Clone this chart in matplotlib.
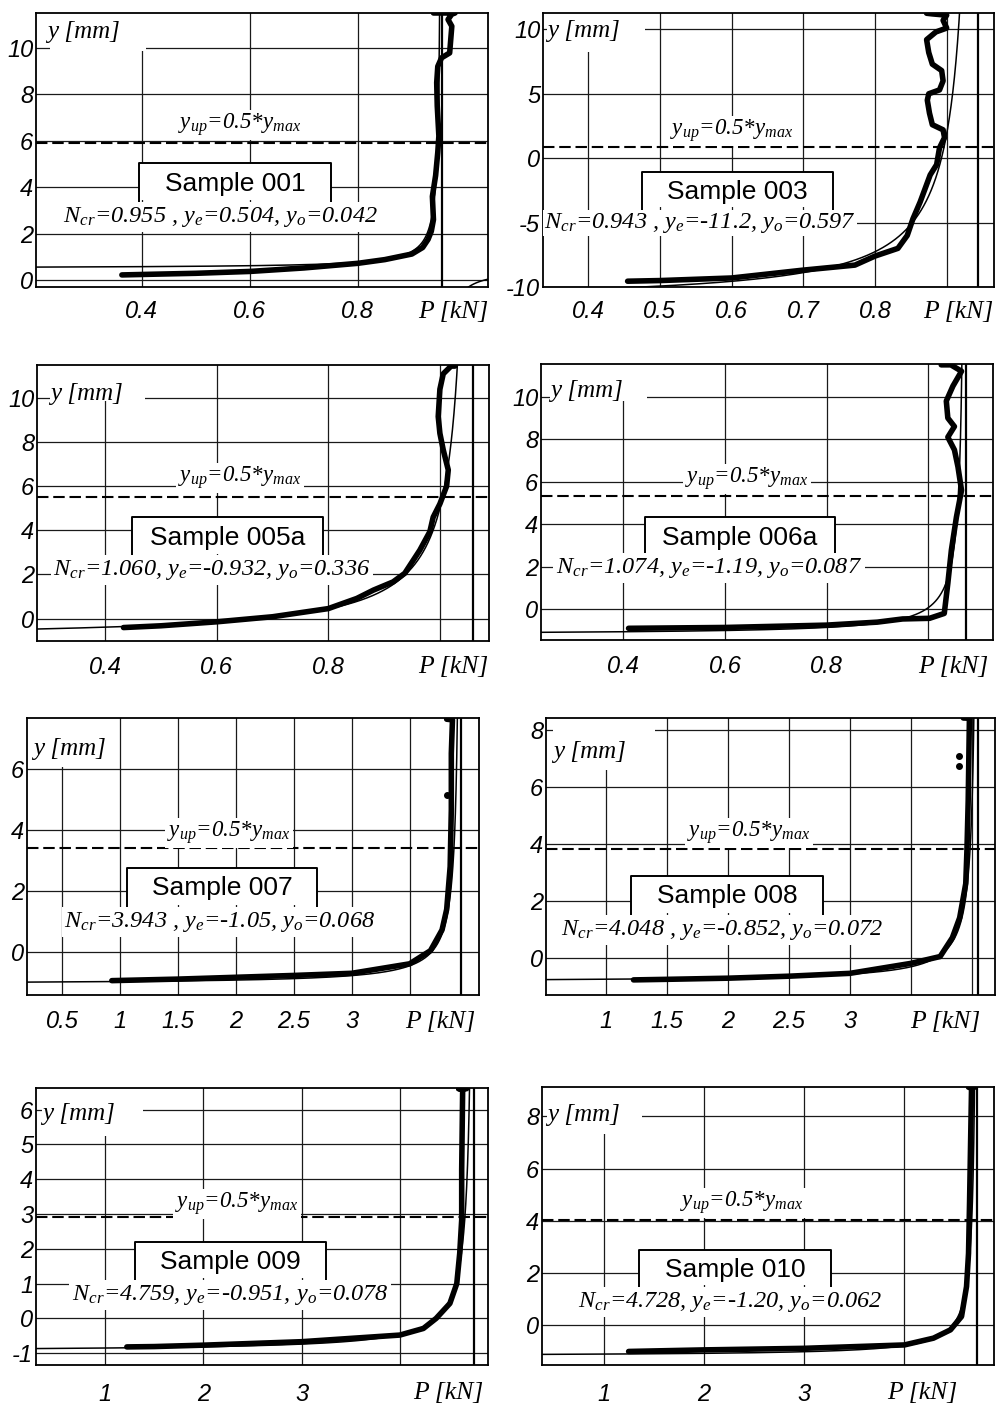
import numpy as np
import matplotlib
matplotlib.use('Agg')
import matplotlib.pyplot as plt
from matplotlib.patches import Rectangle
from matplotlib.lines import Line2D

plt.rcParams['mathtext.fontset'] = 'custom'
plt.rcParams['mathtext.rm'] = 'Liberation Serif:italic'
plt.rcParams['mathtext.it'] = 'Liberation Serif:italic'
plt.rcParams['mathtext.bf'] = 'Liberation Serif:bold:italic'

# ---------------- data ----------------
samples = ['001', '003', '005a', '006a', '007', '008', '009', '010']
Ncr = [0.955, 0.943, 1.060, 1.074, 3.943, 4.048, 4.759, 4.728]
ye = [0.504, -11.2, -0.932, -1.19, -1.05, -0.852, -0.951, -1.20]
yo = [0.042, 0.597, 0.336, 0.087, 0.068, 0.072, 0.078, 0.062]
param_labels = [
    'N$_{cr}$=0.955 , y$_e$=0.504, y$_o$=0.042',
    'N$_{cr}$=0.943 , y$_e$=-11.2, y$_o$=0.597',
    'N$_{cr}$=1.060, y$_e$=-0.932, y$_o$=0.336',
    'N$_{cr}$=1.074, y$_e$=-1.19, y$_o$=0.087',
    'N$_{cr}$=3.943 , y$_e$=-1.05, y$_o$=0.068',
    'N$_{cr}$=4.048 , y$_e$=-0.852, y$_o$=0.072',
    'N$_{cr}$=4.759, y$_e$=-0.951, y$_o$=0.078',
    'N$_{cr}$=4.728, y$_e$=-1.20, y$_o$=0.062',
]
y_up = [5.9, 0.9, 5.53, 5.33, 3.40, 3.81, 2.9, 4.03]

P_001 = [0.363, 0.42, 0.5, 0.6, 0.7, 0.8, 0.85, 0.9, 0.92, 0.93, 0.936, 0.94, 0.938, 0.944, 0.948,
         0.950, 0.947, 0.946, 0.948, 0.955, 0.970, 0.974, 0.967, 0.974, 0.980, 0.940]
y_001 = [0.22, 0.25, 0.29, 0.37, 0.52, 0.72, 0.88, 1.12, 1.40, 1.75, 2.10, 2.60, 3.60, 4.50, 5.50,
         6.20, 7.50, 8.50, 9.20, 9.57, 9.78, 10.93, 11.22, 11.45, 11.5, 11.5]

P_003 = [0.455, 0.5, 0.6, 0.698, 0.772, 0.8, 0.832, 0.845, 0.853, 0.863, 0.877, 0.886, 0.890, 0.897,
         0.895, 0.880, 0.876, 0.873, 0.875, 0.890, 0.895, 0.893, 0.880, 0.875, 0.872, 0.885, 0.900,
         0.895, 0.900, 0.880, 0.872]
y_003 = [-9.55, -9.5, -9.3, -8.7, -8.3, -7.6, -7.0, -6.0, -4.7, -3.4, -1.3, -0.5, 0.8, 1.6,
         2.2, 2.6, 3.5, 4.5, 5.0, 5.3, 6.0, 6.8, 7.3, 8.2, 9.2, 9.8, 10.1,
         10.7, 11.1, 11.2, 11.25]

P_005a = [0.433, 0.5, 0.6, 0.7, 0.8, 0.851, 0.881, 0.916, 0.937, 0.964, 0.982, 0.988, 1.0, 1.012,
          1.015, 1.006, 1.0, 0.997, 1.0, 1.006, 1.02, 1.027]
y_005a = [-0.41, -0.33, -0.15, 0.08, 0.45, 0.91, 1.29, 1.66, 2.05, 3.1, 3.94, 4.6, 5.2, 6.0,
          6.74, 7.65, 8.4, 9.16, 10.4, 11.1, 11.45, 11.45]

P_006a = [0.41, 0.6, 0.8, 0.9, 0.95, 1.003, 1.032, 1.039, 1.046, 1.056, 1.066, 1.059, 1.052, 1.039,
          1.052, 1.039, 1.036, 1.049, 1.066, 1.045, 1.026]
y_006a = [-0.89, -0.85, -0.74, -0.6, -0.45, -0.42, -0.19, 1.22, 2.79, 4.35, 5.6, 6.7, 7.5, 8.1,
          8.6, 9.0, 9.8, 10.5, 11.2, 11.5, 11.5]

P_007 = [0.93, 1.5, 2.0, 2.5, 3.0, 3.5, 3.68, 3.78, 3.82, 3.85, 3.86, 3.86, 3.87, 3.82]
y_007 = [-0.93, -0.88, -0.82, -0.76, -0.69, -0.38, 0.05, 0.73, 1.4, 2.8, 4.66, 6.5, 7.6, 7.62]

P_008 = [1.224, 1.5, 2.0, 2.5, 3.0, 3.5, 3.74, 3.84, 3.90, 3.95, 3.96, 3.97, 3.98, 3.93]
y_008 = [-0.78, -0.76, -0.72, -0.65, -0.55, -0.2, 0.04, 0.7, 1.4, 2.6, 3.8, 5.5, 8.4, 8.41]

P_009 = [1.22, 1.5, 2.0, 3.0, 4.0, 4.24, 4.37, 4.51, 4.58, 4.61, 4.63, 4.63, 4.64, 4.60, 4.68]
y_009 = [-0.82, -0.81, -0.77, -0.67, -0.48, -0.29, 0.0, 0.43, 1.0, 1.87, 2.83, 4.27, 6.6, 6.6, 6.6]

P_010 = [1.25, 1.5, 2.0, 3.0, 4.0, 4.29, 4.46, 4.57, 4.62, 4.64, 4.65, 4.67, 4.64, 4.70]
y_010 = [-1.02, -1.0, -0.96, -0.9, -0.77, -0.51, -0.19, 0.32, 1.47, 2.75, 4.67, 9.1, 9.12, 9.12]

# isolated scattered measurement points
dots_P_007 = [3.82]
dots_y_007 = [5.15]
dots_P_008 = [3.896, 3.896]
dots_y_008 = [7.06, 6.73]

P_data = [P_001, P_003, P_005a, P_006a, P_007, P_008, P_009, P_010]
y_data = [y_001, y_003, y_005a, y_006a, y_007, y_008, y_009, y_010]
dots_P = [[], [], [], [], dots_P_007, dots_P_008, [], []]
dots_y = [[], [], [], [], dots_y_007, dots_y_008, [], []]

xlims = [(0.204, 1.041), (0.337, 0.966), (0.278, 1.088), (0.2375, 1.128),
         (0.198, 4.099), (0.506, 4.19), (0.295, 4.898), (0.386, 4.894)]
ylims = [(-0.3, 11.5), (-10, 11.27), (-1.02, 11.5), (-1.44, 11.54),
         (-1.4, 7.66), (-1.31, 8.41), (-1.34, 6.62), (-1.54, 9.13)]

x_ticklabels = [['0.4', '0.6', '0.8'], ['0.4', '0.5', '0.6', '0.7', '0.8'],
                ['0.4', '0.6', '0.8'], ['0.4', '0.6', '0.8'],
                ['0.5', '1', '1.5', '2', '2.5', '3'], ['1', '1.5', '2', '2.5', '3'],
                ['1', '2', '3'], ['1', '2', '3']]
x_grid = [[0.4, 0.6, 0.8], [0.4, 0.5, 0.6, 0.7, 0.8, 0.9], [0.4, 0.6, 0.8, 1.0], [0.4, 0.6, 0.8, 1.0],
          [0.5, 1, 1.5, 2, 2.5, 3, 3.5], [1, 1.5, 2, 2.5, 3, 3.5, 4], [1, 2, 3, 4], [1, 2, 3, 4]]
y_ticklabels = [['0', '2', '4', '6', '8', '10'], ['-10', '-5', '0', '5', '10'],
                ['0', '2', '4', '6', '8', '10'], ['0', '2', '4', '6', '8', '10'],
                ['0', '2', '4', '6'], ['0', '2', '4', '6', '8'],
                ['-1', '0', '1', '2', '3', '4', '5', '6'], ['0', '2', '4', '6', '8']]

# ---------------- layout (pixels) ----------------
W, H = 998, 1406
ax_px = [(36, 488, 13, 287), (543, 994, 13, 287), (37, 489, 365, 641), (541, 993, 364, 640),
         (27, 479, 718, 995), (546, 995, 718, 995), (36, 488, 1088, 1365), (542, 994, 1087, 1365)]
yup_px = [(240, 125), (732, 131), (240, 478), (747, 479), (229, 833), (749, 833), (237, 1204), (742, 1203)]
box_px = [(139, 331, 163, 200), (642, 833, 172, 207), (132, 323, 517, 554), (645, 835, 517, 554),
          (127, 317, 868, 905), (631, 823, 876, 913), (135, 326, 1242, 1278), (639, 831, 1250, 1285)]
par_px = [(220, 217), (700, 223), (212, 570), (709, 568), (220, 922), (722, 930), (230, 1295), (730, 1302)]
par_pad = [2, 1, 2, 2, 2, 2, 2, 2]
ymm_box = [(50, 146, 13, 51), (547, 645, 13, 52), (50, 145, 365, 401), (550, 647, 364, 401),
           (33, 115, 718, 767), (553, 655, 718, 770), (42, 143, 1088, 1136), (547, 642, 1087, 1134)]
ymm_txt = [(47, 32), (547, 31), (50, 394), (550, 391), (33, 749), (553, 752), (42, 1114), (547, 1115)]
pkn_px = [(488, 312), (993, 312), (488, 667), (988, 667), (475, 1022), (980, 1022), (483, 1393), (957, 1393)]
xpad = [9, 9, 10.5, 10.5, 10.5, 10.5, 13, 13]


def fx(x):
    return x / W


def fy(y):
    return 1 - y / H


fig = plt.figure(figsize=(W / 100, H / 100), dpi=100)
fig.patch.set_facecolor('white')

for i in range(8):
    l, r, t, b = ax_px[i]
    ax = fig.add_axes([fx(l), fy(b), (r - l) / W, (b - t) / H])
    ax.set_xlim(*xlims[i])
    ax.set_ylim(*ylims[i])
    for s in ax.spines.values():
        s.set_linewidth(1.3)
        s.set_zorder(2.5)

    # grid
    for xv in x_grid[i]:
        ax.axvline(xv, color='#1a1a1a', lw=0.9, zorder=1.5)
    yt = [float(v) for v in y_ticklabels[i]]
    for yv in yt:
        ax.axhline(yv, color='#1a1a1a', lw=0.9, zorder=1.5)

    # ticks
    ax.set_xticks([float(v) for v in x_ticklabels[i]])
    ax.set_xticklabels(x_ticklabels[i])
    ax.set_yticks(yt)
    ax.set_yticklabels(y_ticklabels[i])
    ax.tick_params(axis='both', length=0, labelsize=17)
    ax.tick_params(axis='x', pad=xpad[i])
    ax.tick_params(axis='y', pad=2)
    for lab in ax.get_xticklabels() + ax.get_yticklabels():
        lab.set_fontstyle('italic')
        lab.set_fontfamily('Liberation Sans')

    # white area behind "y [mm]"
    x0, x1, y0, y1 = ymm_box[i]
    ax.add_patch(Rectangle((fx(x0), fy(y1)), (x1 - x0) / W, (y1 - y0) / H,
                           transform=fig.transFigure, facecolor='white', edgecolor='none', zorder=1.8))

    # fitted curve y = ye + yo / (1 - P/Ncr)
    Pf = np.linspace(xlims[i][0], xlims[i][1], 4000)
    yf = ye[i] + yo[i] / (1 - Pf / Ncr[i])
    yf[np.abs(Pf - Ncr[i]) < 0.002 * Ncr[i]] = np.nan
    yf[(Pf > Ncr[i]) & (yf > ylims[i][1])] = np.nan
    ax.plot(Pf, yf, color='black', lw=1.1, zorder=2.1)

    # measured data
    ax.plot(P_data[i], y_data[i], color='black', lw=4.0, solid_capstyle='round',
            solid_joinstyle='round', zorder=2.2)
    if dots_P[i]:
        ax.plot(dots_P[i], dots_y[i], 'o', color='black', ms=4, zorder=2.2)

    # asymptote at Ncr
    ax.axvline(Ncr[i], color='black', lw=1.6, zorder=2.3)

    # y_up dashed line
    ax.axhline(y_up[i], color='black', lw=1.5, ls=(0, (5.5, 2.3)), zorder=2.0)

    # y_up label
    ax.text(fx(yup_px[i][0]), fy(yup_px[i][1]), 'y$_{up}$=0.5*y$_{max}$', transform=fig.transFigure,
            ha='center', va='center', fontsize=16.5, fontfamily='Liberation Serif', fontstyle='italic',
            zorder=3, bbox=dict(facecolor='white', edgecolor='none', pad=1.5))

    # sample box (top and sides)
    bx0, bx1, bt, bb = box_px[i]
    ax.add_patch(Rectangle((fx(bx0), fy(bb)), (bx1 - bx0) / W, (bb - bt) / H,
                           transform=fig.transFigure, facecolor='white', edgecolor='none', zorder=2.6))
    ax.add_line(Line2D([fx(bx0), fx(bx0), fx(bx1), fx(bx1)], [fy(bb + 4), fy(bt), fy(bt), fy(bb + 4)],
                       transform=fig.transFigure, color='black', lw=1.4, zorder=2.7, clip_on=False))
    ax.text(fx((bx0 + bx1) / 2), fy((bt + bb) / 2 + 2), 'Sample ' + samples[i], transform=fig.transFigure,
            ha='center', va='center', fontsize=19, fontfamily='Liberation Sans', zorder=2.8)

    # parameter text
    ax.text(fx(par_px[i][0]), fy(par_px[i][1]), param_labels[i], transform=fig.transFigure,
            ha='center', va='center', fontsize=17.5, fontfamily='Liberation Serif', fontstyle='italic',
            zorder=3, bbox=dict(facecolor='white', edgecolor='none', pad=par_pad[i]))

    # axis names
    ax.text(fx(ymm_txt[i][0]), fy(ymm_txt[i][1]), 'y [mm]', transform=fig.transFigure,
            ha='left', va='center', fontsize=18, fontfamily='Liberation Serif', fontstyle='italic', zorder=3)
    ax.text(fx(pkn_px[i][0]), fy(pkn_px[i][1]), 'P [kN]', transform=fig.transFigure,
            ha='right', va='center', fontsize=18.5, fontfamily='Liberation Serif', fontstyle='italic', zorder=3)

fig.savefig('out.png', dpi=100, facecolor='white')
